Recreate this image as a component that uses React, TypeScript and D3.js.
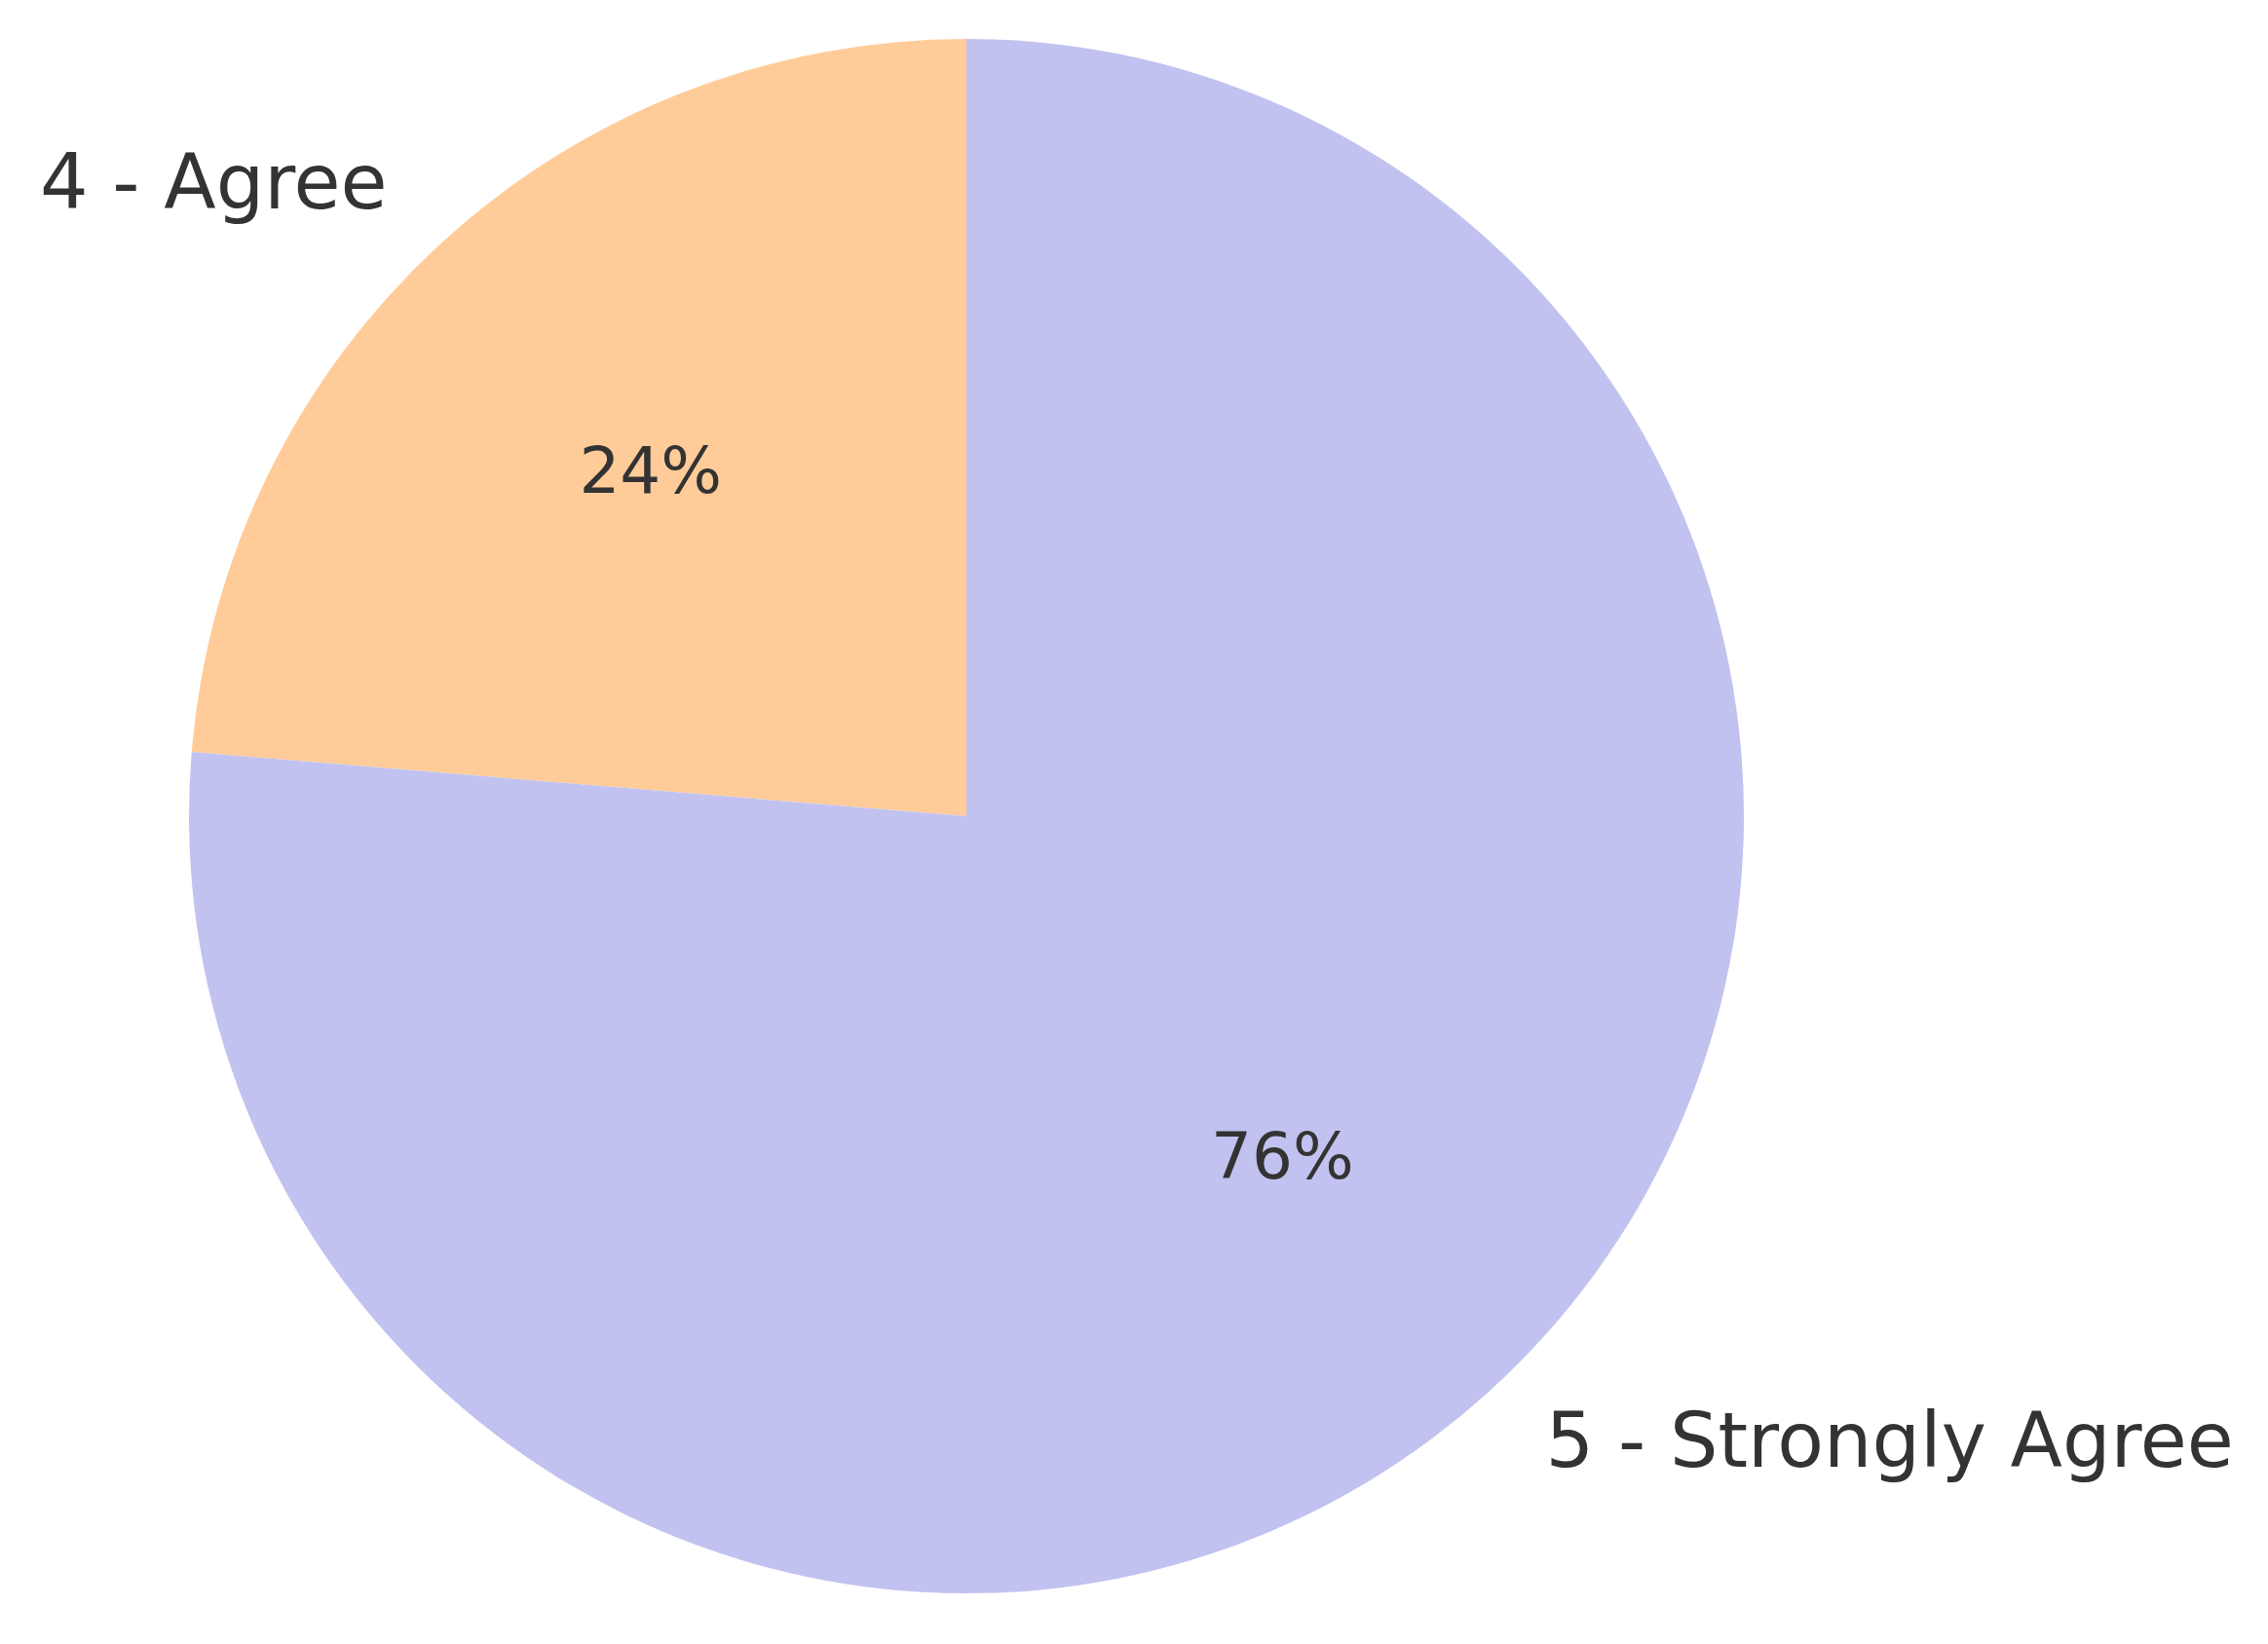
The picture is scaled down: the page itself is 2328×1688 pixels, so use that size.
import React, { useRef, useEffect } from 'react';
import * as d3 from 'd3';

// responses per answer (~23.7% / 76.3%)
const categories = ['4 - Agree', '5 - Strongly Agree'];
const counts = [9, 29];
const colors = ['#ffcc99', '#c2c2f0'];

const App = () => {
  const svgRef = useRef<SVGSVGElement>(null);
  const width = 2328;
  const height = 1688;
  const cx = 992;
  const cy = 838;
  const radius = 798;

  useEffect(() => {
    const svg = d3.select(svgRef.current);
    svg.selectAll('*').remove();

    const g = svg.append('g').attr('transform', `translate(${cx}, ${cy})`);

    const data = categories.map((c, i) => ({ label: c, value: counts[i], color: colors[i] }));
    const total = d3.sum(counts);

    // matplotlib style: start at top, go counter-clockwise
    const pie = d3.pie<any>()
      .value(d => d.value)
      .sort(null)
      .startAngle(0)
      .endAngle(-2 * Math.PI);

    const arc = d3.arc<any>().innerRadius(0).outerRadius(radius);
    const arcs = pie(data);

    g.selectAll('path.slice')
      .data(arcs)
      .enter()
      .append('path')
      .attr('class', 'slice')
      .attr('d', arc)
      .attr('fill', d => d.data.color);

    const font = 'DejaVu Sans, sans-serif';

    // outer labels at 1.1 * r
    g.selectAll('text.label')
      .data(arcs)
      .enter()
      .append('text')
      .attr('class', 'label')
      .attr('x', d => Math.sin((d.startAngle + d.endAngle) / 2) * radius * 1.1)
      .attr('y', d => -Math.cos((d.startAngle + d.endAngle) / 2) * radius * 1.1)
      .attr('dy', '0.28em')
      .attr('text-anchor', d => (Math.sin((d.startAngle + d.endAngle) / 2) < 0 ? 'end' : 'start'))
      .style('font-family', font)
      .style('font-size', '78px')
      .style('fill', '#333333')
      .text(d => d.data.label);

    // percentages at 0.6 * r
    g.selectAll('text.pct')
      .data(arcs)
      .enter()
      .append('text')
      .attr('class', 'pct')
      .attr('x', d => Math.sin((d.startAngle + d.endAngle) / 2) * radius * 0.6)
      .attr('y', d => -Math.cos((d.startAngle + d.endAngle) / 2) * radius * 0.6)
      .attr('dy', '0.3em')
      .attr('text-anchor', 'middle')
      .style('font-family', font)
      .style('font-size', '66px')
      .style('fill', '#333333')
      .text(d => `${Math.round((d.data.value / total) * 100)}%`);
  }, []);

  return (
    <svg
      ref={svgRef}
      width={width}
      height={height}
      style={{ position: 'absolute', left: 0, top: 0, background: '#ffffff' }}
    />
  );
};

export default App;
